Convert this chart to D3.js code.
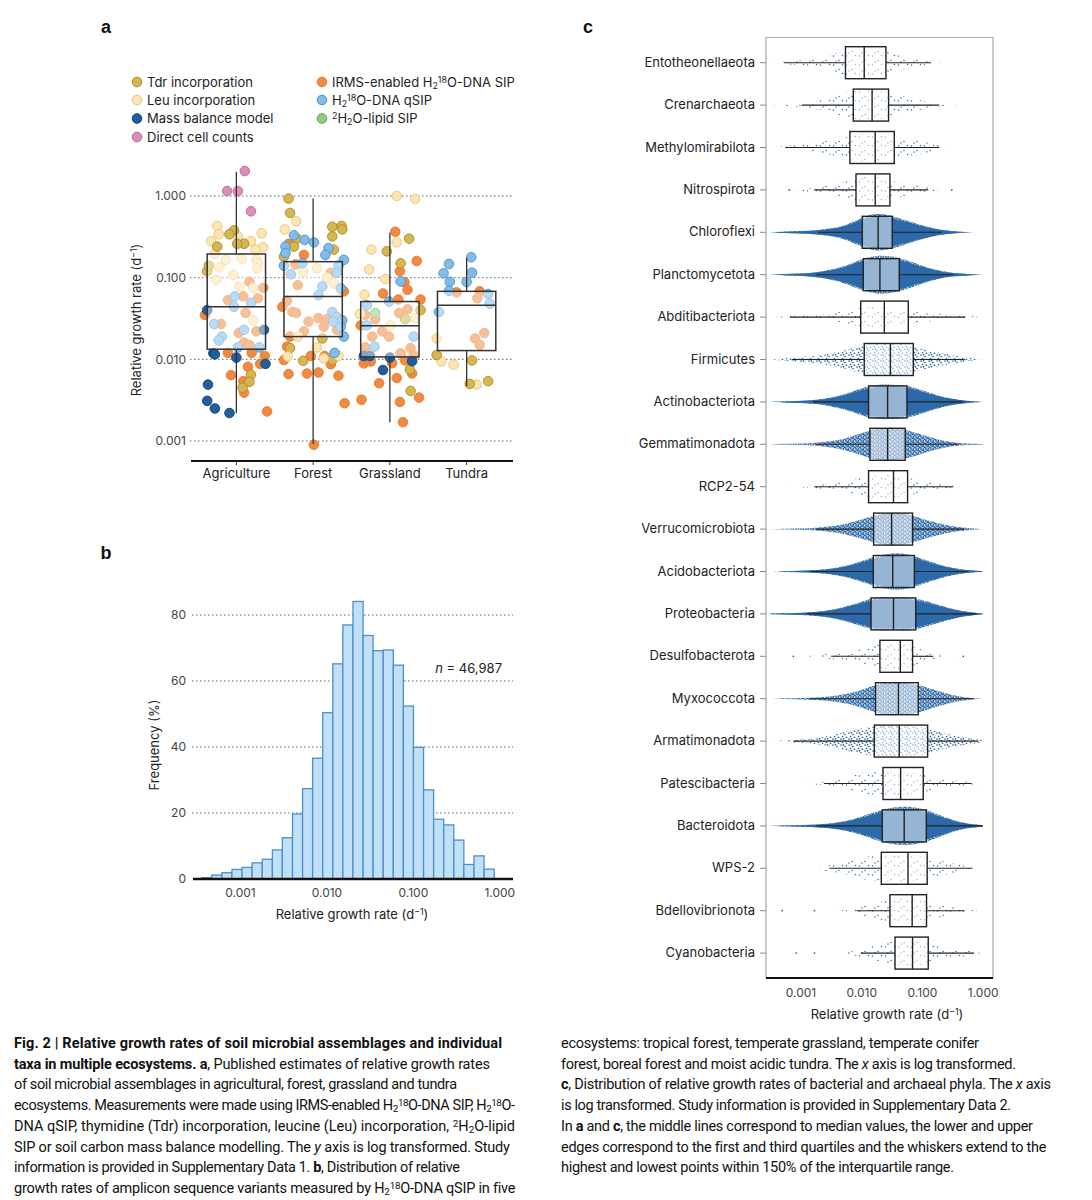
<!DOCTYPE html>
<html>
<head>
<meta charset="utf-8">
<script src="https://cdn.jsdelivr.net/npm/d3@7"></script>
<style>
  body { margin: 0; background: #fff; }
  svg text { font-family: Inter, "Noto Sans", sans-serif; fill: #222; }
</style>
</head>
<body>
<svg id="fig" width="1092" height="1200"></svg>
<script>
// ---------- panel a data ----------
const ecosystems = ["Agriculture", "Forest", "Grassland", "Tundra"];
const ecoLo  = [0.0022, 0.00092, 0.0017, 0.0047];
const ecoQ1  = [0.0133, 0.019, 0.0107, 0.0128];
const ecoMed = [0.044, 0.0586, 0.0257, 0.046];
const ecoQ3  = [0.195, 0.157, 0.051, 0.068];
const ecoHi  = [1.98, 0.93, 0.355, 0.176];

const methodKeys = ["tdr", "leu", "mass", "cell", "irms", "qsip", "lipid"];
const methodLabels = [
  "Tdr incorporation", "Leu incorporation", "Mass balance model", "Direct cell counts",
  "IRMS-enabled H_{2}^{18}O-DNA SIP", "H_{2}^{18}O-DNA qSIP", "^{2}H_{2}O-lipid SIP"
];

// [method, rate, jitter (fraction of category step)]
const pointsAgriculture = [
  ["irms",0.089,0.17],["irms",0.075,0.35],["irms",0.053,-0.11],["irms",0.059,0.09],["irms",0.056,0.28],
  ["irms",0.035,-0.41],["irms",0.037,0.12],["irms",0.027,-0.2],["irms",0.022,0.26],["irms",0.021,0.03],
  ["irms",0.016,0.1],["irms",0.015,0.17],["irms",0.012,-0.11],["irms",0.012,0.2],["irms",0.011,0.37],
  ["irms",0.0088,0.31],["irms",0.0081,0.15],["irms",0.0064,-0.07],["irms",0.0054,0.09],["irms",0.0039,0.1],
  ["irms",0.0023,0.4],
  ["cell",2.02,0.11],["cell",1.15,-0.12],["cell",1.15,0.02],["cell",0.65,0.19],
  ["leu",0.43,-0.25],["leu",0.34,-0.23],["leu",0.28,-0.33],["leu",0.32,0.02],["leu",0.28,0.19],
  ["leu",0.35,0.33],["leu",0.235,0.35],["leu",0.22,0.25],["leu",0.195,-0.28],["leu",0.17,0.07],
  ["leu",0.165,0.26],["leu",0.165,-0.14],["leu",0.134,-0.22],["leu",0.108,-0.04],["leu",0.094,-0.26],
  ["leu",0.15,0.28],["leu",0.078,0.04],["leu",0.075,0.22],["leu",0.030,0.22],["leu",0.13,0.27],
  ["tdr",0.38,-0.03],["tdr",0.34,-0.09],["tdr",0.26,0.10],["tdr",0.26,0.01],["tdr",0.24,-0.25],
  ["tdr",0.12,-0.38],["tdr",0.14,-0.36],["tdr",0.0065,0.19],["tdr",0.0053,0.17],["tdr",0.0045,0.08],
  ["qsip",0.059,-0.02],["qsip",0.049,0.19],["qsip",0.044,-0.03],["qsip",0.027,-0.29],["qsip",0.023,0.1],
  ["qsip",0.019,-0.19],["qsip",0.017,-0.23],["qsip",0.014,0.02],["qsip",0.014,0.3],
  ["mass",0.040,-0.38],["mass",0.023,0.36],["mass",0.0119,-0.3],["mass",0.0115,-0.28],["mass",0.0105,0],
  ["mass",0.0088,0.38],["mass",0.0049,-0.37],["mass",0.0031,-0.38],["mass",0.0025,-0.28],["mass",0.0022,-0.09]
];
const pointsForest = [
  ["irms",0.26,-0.32],["irms",0.19,-0.12],["irms",0.145,-0.23],["irms",0.115,0.23],["irms",0.081,-0.2],
  ["irms",0.068,0.4],["irms",0.044,-0.4],["irms",0.052,-0.34],["irms",0.038,-0.27],["irms",0.037,-0.22],
  ["irms",0.029,-0.06],["irms",0.032,0.07],["irms",0.031,0.18],["irms",0.025,0.14],["irms",0.023,0.31],
  ["irms",0.022,-0.12],["irms",0.019,-0.3],["irms",0.0143,-0.34],["irms",0.0098,-0.38],["irms",0.011,-0.03],
  ["irms",0.011,0.15],["irms",0.0087,0.23],["irms",0.0066,-0.32],["irms",0.0067,-0.08],["irms",0.0069,0.07],
  ["irms",0.0063,0.33],["irms",0.0029,0.41],["irms",0.0009,0.01],
  ["tdr",0.93,-0.32],["tdr",0.62,-0.3],["tdr",0.42,0.25],["tdr",0.43,0.37],["tdr",0.39,0.38],
  ["tdr",0.32,0.25],["tdr",0.3,-0.21],["tdr",0.24,-0.25],["tdr",0.22,0.27],["tdr",0.18,-0.38],
  ["tdr",0.018,0.12],["tdr",0.0137,-0.3],["tdr",0.0096,-0.13],["tdr",0.0098,0.25],
  ["leu",0.49,-0.22],["leu",0.39,-0.37],["leu",0.13,0.05],["leu",0.118,-0.13],["leu",0.1,0.18],
  ["leu",0.085,0.27],["leu",0.019,-0.2],["leu",0.014,0.05],["leu",0.0108,-0.33],["leu",0.0103,0.14],
  ["leu",0.011,0.33],
  ["qsip",0.33,-0.25],["qsip",0.29,-0.11],["qsip",0.27,0.01],["qsip",0.24,-0.36],["qsip",0.23,0.2],
  ["qsip",0.19,0.16],["qsip",0.2,-0.36],["qsip",0.165,0.4],["qsip",0.15,-0.14],["qsip",0.14,0.33],
  ["qsip",0.14,-0.38],["qsip",0.11,-0.29],["qsip",0.115,0.31],["qsip",0.078,0.12],["qsip",0.074,0.36],
  ["qsip",0.061,0.07],["qsip",0.038,0.25],["qsip",0.033,0.31],["qsip",0.029,0.26],["qsip",0.03,0.38],
  ["qsip",0.025,0.36],["qsip",0.019,0.4],["qsip",0.012,0.28]
];
const pointsGrassland = [
  ["irms",0.365,0.07],["irms",0.16,0.35],["irms",0.12,0.13],["irms",0.088,0.19],["irms",0.071,0.23],
  ["irms",0.064,-0.09],["irms",0.054,0.4],["irms",0.054,0.11],["irms",0.035,-0.32],["irms",0.037,0.12],
  ["irms",0.041,0.23],["irms",0.026,-0.38],["irms",0.031,-0.19],["irms",0.022,-0.1],["irms",0.019,-0.01],
  ["irms",0.019,-0.23],["irms",0.0137,0.27],["irms",0.014,-0.32],["irms",0.0119,0.14],["irms",0.0112,0.31],
  ["irms",0.0089,-0.34],["irms",0.0094,-0.25],["irms",0.009,0.03],["irms",0.0097,0.2],["irms",0.0067,0.29],
  ["irms",0.0059,0.09],["irms",0.0051,-0.14],["irms",0.0032,-0.37],["irms",0.0034,0.38],["irms",0.003,0.13],
  ["irms",0.0017,0.17],
  ["leu",1.0,0.09],["leu",0.92,0.33],["leu",0.27,0.09],["leu",0.22,-0.24],["leu",0.126,-0.27],
  ["leu",0.096,-0.06],["leu",0.062,-0.33],["leu",0.036,-0.39],["leu",0.026,0.01],["leu",0.032,0.33],
  ["tdr",0.3,0.25],["tdr",0.21,-0.04],["tdr",0.15,0.14],["tdr",0.04,0.4],["tdr",0.031,0.2],
  ["tdr",0.0075,0.26],["tdr",0.0041,0.27],
  ["lipid",0.037,-0.19],
  ["qsip",0.09,0.14],["qsip",0.051,-0.01],["qsip",0.046,-0.3],["qsip",0.026,-0.3],["qsip",0.019,0.31],
  ["qsip",0.0143,-0.2],
  ["mass",0.011,-0.34],["mass",0.011,-0.26],["mass",0.0105,0],["mass",0.0095,0.29],["mass",0.0074,-0.09]
];
const pointsTundra = [
  ["irms",0.066,-0.13],["irms",0.068,0.17],["irms",0.056,0.14],["irms",0.021,0.23],["irms",0.018,0.11],
  ["irms",0.015,0.17],
  ["leu",0.018,-0.39],["leu",0.0094,-0.33],["leu",0.0086,-0.17],["leu",0.0049,0.13],
  ["tdr",0.0113,-0.39],["tdr",0.0097,0.07],["tdr",0.005,0.04],["tdr",0.0054,0.28],
  ["qsip",0.178,0.06],["qsip",0.147,-0.23],["qsip",0.113,-0.3],["qsip",0.115,0.07],["qsip",0.089,-0.22],
  ["qsip",0.089,0],["qsip",0.069,-0.23],["qsip",0.063,0.28],["qsip",0.048,0.3],["qsip",0.038,-0.36]
];

// ---------- panel b data ----------
const binEdges = [0.000361, 0.000472, 0.000617, 0.000807, 0.001056, 0.00138, 0.00181, 0.00237,
  0.00309, 0.00405, 0.0053, 0.00692, 0.00906, 0.01186, 0.01549, 0.02028, 0.02655, 0.03467,
  0.04539, 0.05943, 0.07762, 0.1016, 0.133, 0.1738, 0.2275, 0.2979, 0.389, 0.5093, 0.6668, 0.873];
const binFreq = [0.4, 1.2, 1.9, 2.9, 3.5, 4.9, 6.0, 8.8, 12.5, 19.7, 27.4, 36.6, 50.4, 65.2, 77.0,
  84.1, 73.8, 69.2, 69.4, 64.8, 52.4, 39.9, 27.0, 18.1, 16.4, 11.8, 4.4, 7.0, 3.0];
const sampleSize = "46,987";

// ---------- panel c data ----------
const phyla = ["Entotheonellaeota", "Crenarchaeota", "Methylomirabilota", "Nitrospirota", "Chloroflexi",
  "Planctomycetota", "Abditibacteriota", "Firmicutes", "Actinobacteriota", "Gemmatimonadota", "RCP2-54",
  "Verrucomicrobiota", "Acidobacteriota", "Proteobacteria", "Desulfobacterota", "Myxococcota",
  "Armatimonadota", "Patescibacteria", "Bacteroidota", "WPS-2", "Bdellovibrionota", "Cyanobacteria"];
const phyLo  = [0.00054, 0.00105, 0.00056, 0.00168, 0.00195, 0.0018, 0.00067, 0.00072, 0.0016, 0.0018, 0.00168,
  0.0018, 0.0014, 0.00126, 0.0032, 0.0014, 0.00076, 0.00245, 0.0018, 0.003, 0.0084, 0.0098];
const phyQ1  = [0.0055, 0.0074, 0.0065, 0.0082, 0.0104, 0.0108, 0.0098, 0.0112, 0.0132, 0.0139, 0.0132,
  0.016, 0.0158, 0.0145, 0.0203, 0.0172, 0.0164, 0.0228, 0.0222, 0.0214, 0.0297, 0.036];
const phyMed = [0.0112, 0.0151, 0.017, 0.017, 0.019, 0.0203, 0.024, 0.0302, 0.0272, 0.0272, 0.034,
  0.0316, 0.033, 0.034, 0.044, 0.041, 0.0423, 0.0445, 0.051, 0.059, 0.069, 0.07];
const phyQ3  = [0.0255, 0.0282, 0.035, 0.0297, 0.0324, 0.0423, 0.0596, 0.072, 0.0566, 0.053, 0.058,
  0.07, 0.075, 0.079, 0.07, 0.087, 0.124, 0.105, 0.118, 0.122, 0.119, 0.127];
const phyHi  = [0.141, 0.193, 0.193, 0.127, 0.211, 0.33, 0.52, 0.51, 0.48, 0.4, 0.328,
  0.5, 0.56, 0.79, 0.154, 0.71, 0.85, 0.66, 1.0, 0.68, 0.5, 0.72];
const phyCloud = ["sparse", "sparse", "sparse", "sparse", "solid", "solid", "sparse", "medium", "solid",
  "dense", "sparse", "dense", "solid", "solid", "sparse", "dense", "medium", "sparse", "solid", "sparse",
  "sparse", "sparse"];

const profileRates = [0.00032, 0.00056, 0.001, 0.0018, 0.0032, 0.0056, 0.01, 0.018, 0.032, 0.056,
  0.1, 0.18, 0.32, 0.56, 1.0];
const phyProfiles = [
  [0, 0.1, 0.15, 0.2, 0.4, 0.85, 0.9, 0.9, 0.5, 0.35, 0.2, 0, 0, 0, 0],
  [0, 0.05, 0.15, 0.2, 0.45, 0.75, 0.9, 0.9, 0.7, 0.45, 0.25, 0.1, 0, 0, 0],
  [0, 0.1, 0.15, 0.25, 0.45, 0.6, 0.85, 0.85, 0.6, 0.5, 0.4, 0.15, 0, 0, 0],
  [0, 0, 0.05, 0.15, 0.3, 0.5, 0.8, 0.8, 0.5, 0.35, 0.25, 0, 0, 0, 0],
  [0, 0.04, 0.06, 0.1, 0.2, 0.35, 0.75, 1.0, 0.85, 0.6, 0.35, 0.15, 0.06, 0, 0],
  [0, 0.04, 0.06, 0.12, 0.25, 0.45, 0.8, 1.0, 0.95, 0.75, 0.45, 0.22, 0.08, 0.04, 0],
  [0, 0.05, 0.1, 0.1, 0.2, 0.35, 0.6, 0.6, 0.5, 0.35, 0.3, 0.2, 0.15, 0.05, 0],
  [0, 0.08, 0.15, 0.2, 0.35, 0.55, 0.8, 0.95, 0.95, 0.9, 0.6, 0.4, 0.25, 0.1, 0],
  [0, 0.03, 0.05, 0.1, 0.22, 0.4, 0.7, 0.9, 0.88, 0.85, 0.6, 0.33, 0.15, 0.05, 0],
  [0, 0.03, 0.04, 0.08, 0.18, 0.33, 0.65, 0.95, 1.0, 0.85, 0.55, 0.28, 0.1, 0.04, 0.02],
  [0, 0, 0.03, 0.1, 0.2, 0.35, 0.55, 0.7, 0.7, 0.55, 0.35, 0.2, 0.05, 0, 0],
  [0, 0.03, 0.04, 0.08, 0.15, 0.3, 0.55, 0.85, 1.0, 0.92, 0.6, 0.35, 0.15, 0.06, 0],
  [0, 0.02, 0.04, 0.07, 0.14, 0.28, 0.52, 0.8, 0.95, 0.92, 0.65, 0.38, 0.17, 0.06, 0.02],
  [0.02, 0.03, 0.05, 0.1, 0.2, 0.38, 0.62, 0.88, 0.82, 0.88, 0.72, 0.48, 0.25, 0.1, 0.02],
  [0, 0, 0, 0.05, 0.15, 0.3, 0.4, 0.7, 0.8, 0.7, 0.4, 0.05, 0, 0, 0],
  [0, 0.02, 0.04, 0.07, 0.14, 0.26, 0.5, 0.85, 1.0, 0.95, 0.78, 0.45, 0.2, 0.06, 0],
  [0, 0.05, 0.1, 0.15, 0.35, 0.55, 0.75, 0.9, 0.9, 0.85, 0.85, 0.55, 0.35, 0.2, 0.05],
  [0, 0, 0, 0.05, 0.15, 0.35, 0.6, 0.7, 0.7, 0.7, 0.55, 0.35, 0.2, 0.1, 0],
  [0, 0.02, 0.04, 0.07, 0.12, 0.25, 0.45, 0.75, 0.95, 1.0, 0.9, 0.6, 0.3, 0.1, 0.04],
  [0, 0, 0, 0.05, 0.2, 0.35, 0.65, 0.75, 0.75, 0.8, 0.7, 0.45, 0.3, 0.1, 0],
  [0, 0, 0, 0, 0, 0, 0.3, 0.45, 0.7, 0.75, 0.65, 0.4, 0.25, 0.05, 0],
  [0, 0, 0, 0, 0, 0, 0.25, 0.45, 0.7, 0.75, 0.7, 0.45, 0.3, 0.15, 0]
];
const phyOutliers = [
  ["Nitrospirota", 0.00065], ["Nitrospirota", 0.31],
  ["Desulfobacterota", 0.00076], ["Desulfobacterota", 0.48],
  ["Bdellovibrionota", 0.0005], ["Bdellovibrionota", 0.0017],
  ["Cyanobacteria", 0.00085], ["Cyanobacteria", 0.0017]
];

// ---------- caption ----------
const captionLeft = [
  "**Fig. 2 | Relative growth rates of soil microbial assemblages and individual**",
  "**taxa in multiple ecosystems. a**, Published estimates of relative growth rates",
  "of soil microbial assemblages in agricultural, forest, grassland and tundra",
  "ecosystems. Measurements were made using IRMS-enabled H_{2}^{18}O-DNA SIP, H_{2}^{18}O-",
  "DNA qSIP, thymidine (Tdr) incorporation, leucine (Leu) incorporation, ^{2}H_{2}O-lipid",
  "SIP or soil carbon mass balance modelling. The *y* axis is log transformed. Study",
  "information is provided in Supplementary Data 1. **b**, Distribution of relative",
  "growth rates of amplicon sequence variants measured by H_{2}^{18}O-DNA qSIP in five"
];
const captionRight = [
  "ecosystems: tropical forest, temperate grassland, temperate conifer",
  "forest, boreal forest and moist acidic tundra. The *x* axis is log transformed.",
  "**c**, Distribution of relative growth rates of bacterial and archaeal phyla. The *x* axis",
  "is log transformed. Study information is provided in Supplementary Data 2.",
  "In **a** and **c**, the middle lines correspond to median values, the lower and upper",
  "edges correspond to the first and third quartiles and the whiskers extend to the",
  "highest and lowest points within 150% of the interquartile range."
];
const captionLeftWidths = [488, 476, 443, 501, 501, 496, 446, 501];
const captionRightWidths = [418, 455, 490, 450, 472, 485, 393];

// ---------- helpers ----------
const colors = {
  tdr:   { fill: "#d8b64e", stroke: "#a88b2c" },
  leu:   { fill: "#fce5ae", stroke: "#e3c57f" },
  mass:  { fill: "#205e9f", stroke: "#163f6e" },
  cell:  { fill: "#d98fb6", stroke: "#b56b93" },
  irms:  { fill: "#f08a40", stroke: "#e47b31" },
  qsip:  { fill: "#80bce8", stroke: "#4c91cd" },
  lipid: { fill: "#94cb80", stroke: "#62a150" }
};
const fmt3 = d3.format(".3f");

// simple markup: **bold**, *italic*, _{sub}, ^{sup}
function rich(textSel, str) {
  const parts = str.split(/(\*\*[^*]+\*\*|\*[^*]+\*|_\{[^}]+\}|\^\{[^}]+\})/).filter(s => s.length);
  parts.forEach(p => {
    const t = textSel.append("tspan");
    if (p.startsWith("**")) t.attr("font-weight", "bold").text(p.slice(2, -2));
    else if (p.startsWith("*")) t.attr("font-style", "italic").text(p.slice(1, -1));
    else if (p.startsWith("_{")) t.attr("baseline-shift", "-20%").attr("font-size", "68%").text(p.slice(2, -1));
    else if (p.startsWith("^{")) t.attr("baseline-shift", "45%").attr("font-size", "68%").text(p.slice(2, -1));
    else t.text(p);
  });
  return textSel;
}

const svg = d3.select("#fig");
svg.append("rect").attr("width", 1092).attr("height", 1200).attr("fill", "#fff");

// panel letters
svg.selectAll("text.panel")
  .data([["a", 106, 33], ["b", 106, 559], ["c", 588, 33]])
  .join("text")
  .attr("class", "panel")
  .attr("x", d => d[1]).attr("y", d => d[2])
  .attr("text-anchor", "middle")
  .style("font-family", "'Liberation Sans', Arial, sans-serif")
  .style("font-weight", "bold").style("font-size", "18px").style("fill", "#111")
  .text(d => d[0]);

// ================= panel a =================
const ya = d3.scaleLog().domain([0.001, 1]).range([441, 196]);
const xa = d3.scaleBand().domain(ecosystems).range([198, 505]);
const aTicks = [1, 0.1, 0.01, 0.001];

// legend
const legendPos = [[137, 82], [137, 100], [137, 118.5], [137, 137], [322, 82], [322, 100], [322, 118.5]];
const leg = svg.append("g");
methodKeys.forEach((k, i) => {
  leg.append("circle").attr("cx", legendPos[i][0]).attr("cy", legendPos[i][1]).attr("r", 4.8)
    .attr("fill", colors[k].fill).attr("stroke", colors[k].stroke).attr("stroke-width", 1);
  rich(leg.append("text").attr("x", legendPos[i][0] + 10).attr("y", legendPos[i][1] + 4.5)
    .style("font-size", "13px"), methodLabels[i]);
});

// grid lines
svg.append("g").selectAll("line").data(aTicks).join("line")
  .attr("x1", 190).attr("x2", 513)
  .attr("y1", d => ya(d)).attr("y2", d => ya(d))
  .attr("stroke", "#666").attr("stroke-width", 1).attr("stroke-dasharray", "1.5,2.5");

const yAxisA = svg.append("g").attr("transform", "translate(188,0)")
  .call(d3.axisLeft(ya).tickValues(aTicks).tickFormat(fmt3).tickSize(0).tickPadding(2));
yAxisA.select(".domain").remove();
yAxisA.selectAll("text").style("font-size", "12px").style("fill", "#444").style("font-family", "Inter, sans-serif");

svg.append("text")
  .attr("transform", "translate(141,320) rotate(-90)")
  .attr("text-anchor", "middle").style("font-size", "13px")
  .call(t => rich(t, "Relative growth rate (d^{−1})"));

// points
const allA = [
  ...pointsAgriculture.map(p => ["Agriculture", ...p]),
  ...pointsForest.map(p => ["Forest", ...p]),
  ...pointsGrassland.map(p => ["Grassland", ...p]),
  ...pointsTundra.map(p => ["Tundra", ...p])
];
svg.append("g").selectAll("circle").data(allA).join("circle")
  .attr("cx", d => xa(d[0]) + xa.bandwidth() / 2 + d[3] * xa.step())
  .attr("cy", d => ya(d[2]))
  .attr("r", 4.8)
  .attr("fill", d => colors[d[1]].fill)
  .attr("stroke", d => colors[d[1]].stroke)
  .attr("stroke-width", 0.9);

// boxes
const boxA = svg.append("g");
ecosystems.forEach((e, i) => {
  const cx = xa(e) + xa.bandwidth() / 2;
  const w = xa.step() * 0.76;
  boxA.append("line").attr("x1", cx).attr("x2", cx).attr("y1", ya(ecoHi[i])).attr("y2", ya(ecoQ3[i]))
    .attr("stroke", "#333").attr("stroke-width", 1.3);
  boxA.append("line").attr("x1", cx).attr("x2", cx).attr("y1", ya(ecoQ1[i])).attr("y2", ya(ecoLo[i]))
    .attr("stroke", "#333").attr("stroke-width", 1.3);
  boxA.append("rect").attr("x", cx - w / 2).attr("width", w)
    .attr("y", ya(ecoQ3[i])).attr("height", ya(ecoQ1[i]) - ya(ecoQ3[i]))
    .attr("fill", "#fff").attr("fill-opacity", 0.45).attr("stroke", "#333").attr("stroke-width", 1.5);
  boxA.append("line").attr("x1", cx - w / 2).attr("x2", cx + w / 2)
    .attr("y1", ya(ecoMed[i])).attr("y2", ya(ecoMed[i])).attr("stroke", "#333").attr("stroke-width", 1.5);
});

const xAxisA = svg.append("g").attr("transform", "translate(0,461)")
  .call(d3.axisBottom(xa).tickSize(4).tickPadding(4));
xAxisA.select(".domain").remove();
xAxisA.selectAll("line").attr("stroke", "#333");
xAxisA.selectAll("text").style("font-size", "13px").style("fill", "#222").style("font-family", "Inter, sans-serif");
svg.append("line").attr("x1", 191).attr("x2", 513).attr("y1", 461).attr("y2", 461)
  .attr("stroke", "#111").attr("stroke-width", 2.2);

// ================= panel b =================
const xb = d3.scaleLog().domain([0.001, 1]).range([240, 499.3]);
const yb = d3.scaleLinear().domain([0, 80]).range([879, 615]);

svg.append("g").selectAll("line").data([20, 40, 60, 80]).join("line")
  .attr("x1", 192).attr("x2", 513)
  .attr("y1", d => yb(d)).attr("y2", d => yb(d))
  .attr("stroke", "#666").attr("stroke-width", 1).attr("stroke-dasharray", "1.5,2.5");

svg.append("g").selectAll("rect").data(binFreq).join("rect")
  .attr("x", (d, i) => xb(binEdges[i]))
  .attr("width", (d, i) => xb(binEdges[i + 1]) - xb(binEdges[i]))
  .attr("y", d => yb(d))
  .attr("height", d => yb(0) - yb(d))
  .attr("fill", "#bfe0f6").attr("stroke", "#4f8fc8").attr("stroke-width", 1.3);

const yAxisB = svg.append("g").attr("transform", "translate(190,0)")
  .call(d3.axisLeft(yb).tickValues([0, 20, 40, 60, 80]).tickSize(0).tickPadding(4));
yAxisB.select(".domain").remove();
yAxisB.selectAll("text").style("font-size", "12px").style("fill", "#444").style("font-family", "Inter, sans-serif");

const xAxisB = svg.append("g").attr("transform", "translate(0,880)")
  .call(d3.axisBottom(xb).tickValues([0.001, 0.01, 0.1, 1]).tickFormat(fmt3).tickSize(0).tickPadding(8));
xAxisB.select(".domain").remove();
xAxisB.selectAll("text").style("font-size", "12px").style("fill", "#444").style("font-family", "Inter, sans-serif");
svg.append("line").attr("x1", 193).attr("x2", 513).attr("y1", 879).attr("y2", 879)
  .attr("stroke", "#111").attr("stroke-width", 2.5);

svg.append("text").attr("x", 502).attr("y", 673).attr("text-anchor", "end").style("font-size", "13px")
  .call(t => { t.append("tspan").attr("font-style", "italic").text("n"); t.append("tspan").text(" = " + sampleSize); });

svg.append("text")
  .attr("transform", "translate(159,745) rotate(-90)")
  .attr("text-anchor", "middle").style("font-size", "13px").text("Frequency (%)");
svg.append("text").attr("x", 352).attr("y", 919).attr("text-anchor", "middle").style("font-size", "13px")
  .call(t => rich(t, "Relative growth rate (d^{−1})"));

// ================= panel c =================
const xc = d3.scaleLog().domain([0.00027, 1.48]).range([766, 993]);
const yc = d3.scaleBand().domain(phyla).range([41.5, 974.3]);
const blue = "#2c69a8";

// dot textures for the point clouds
const defs = svg.append("defs");
const patterns = {
  sparse: { w: 13, h: 9, dots: [[1.5, 2], [7, 6.5], [10.5, 1.5], [4, 8]], r: 0.75 },
  medium: { w: 8, h: 6, dots: [[1, 1], [5, 2.5], [2.5, 4.5], [6.5, 5.3], [3.5, 0.8]], r: 0.85 },
  dense:  { w: 5, h: 4, dots: [[1, 1], [3.5, 0.5], [2.2, 2.6], [4.4, 3.2], [0.5, 3.4], [3.2, 1.9]], r: 1.0 }
};
Object.entries(patterns).forEach(([k, p]) => {
  const pat = defs.append("pattern").attr("id", "dots-" + k).attr("patternUnits", "userSpaceOnUse")
    .attr("width", p.w).attr("height", p.h);
  p.dots.forEach(d => pat.append("circle").attr("cx", d[0]).attr("cy", d[1]).attr("r", p.r).attr("fill", blue));
});

// frame
svg.append("path").attr("d", "M766,978V37.5H993V978").attr("fill", "none").attr("stroke", "#aaa").attr("stroke-width", 1.2);

const halfH = 17;
const rowG = svg.append("g");
phyla.forEach((ph, i) => {
  const cy = yc(ph) + yc.bandwidth() / 2;
  const prof = phyProfiles[i].map((v, j) => [profileRates[j], v]);
  const area = d3.area()
    .x(d => xc(d[0]))
    .y0(d => cy - d[1] * halfH)
    .y1(d => cy + d[1] * halfH)
    .curve(d3.curveBasis);
  const cls = phyCloud[i];
  if (cls === "solid") {
    const halo = d3.area().x(d => xc(d[0])).y0(d => cy - d[1] * halfH * 1.15).y1(d => cy + d[1] * halfH * 1.15).curve(d3.curveBasis);
    rowG.append("path").attr("d", halo(prof)).attr("fill", "url(#dots-dense)");
    rowG.append("path").attr("d", area(prof)).attr("fill", blue);
  } else {
    rowG.append("path").attr("d", area(prof)).attr("fill", "url(#dots-" + cls + ")");
  }
  // whiskers
  rowG.append("line").attr("x1", xc(phyLo[i])).attr("x2", xc(phyQ1[i])).attr("y1", cy).attr("y2", cy)
    .attr("stroke", "#222").attr("stroke-width", 1.1);
  rowG.append("line").attr("x1", xc(phyQ3[i])).attr("x2", xc(phyHi[i])).attr("y1", cy).attr("y2", cy)
    .attr("stroke", "#222").attr("stroke-width", 1.1);
  // box
  rowG.append("rect").attr("x", xc(phyQ1[i])).attr("width", xc(phyQ3[i]) - xc(phyQ1[i]))
    .attr("y", cy - 16).attr("height", 32)
    .attr("fill", "#fff").attr("fill-opacity", 0.5).attr("stroke", "#222").attr("stroke-width", 1.4);
  rowG.append("line").attr("x1", xc(phyMed[i])).attr("x2", xc(phyMed[i])).attr("y1", cy - 16).attr("y2", cy + 16)
    .attr("stroke", "#222").attr("stroke-width", 1.4);
});

rowG.append("g").selectAll("circle").data(phyOutliers).join("circle")
  .attr("cx", d => xc(d[1])).attr("cy", d => yc(d[0]) + yc.bandwidth() / 2)
  .attr("r", 0.9).attr("fill", blue);

const yAxisC = svg.append("g").attr("transform", "translate(766,0)")
  .call(d3.axisLeft(yc).tickSize(6).tickPadding(5));
yAxisC.select(".domain").remove();
yAxisC.selectAll("line").attr("stroke", "#888");
yAxisC.selectAll("text").style("font-size", "13px").style("fill", "#222").style("font-family", "Inter, sans-serif");

const xAxisC = svg.append("g").attr("transform", "translate(0,979)")
  .call(d3.axisBottom(xc).tickValues([0.001, 0.01, 0.1, 1]).tickFormat(fmt3).tickSize(0).tickPadding(9));
xAxisC.select(".domain").remove();
xAxisC.selectAll("text").style("font-size", "12px").style("fill", "#444").style("font-family", "Inter, sans-serif");
svg.append("line").attr("x1", 766).attr("x2", 993).attr("y1", 978).attr("y2", 978)
  .attr("stroke", "#111").attr("stroke-width", 2.2);

svg.append("text").attr("x", 887).attr("y", 1019).attr("text-anchor", "middle").style("font-size", "13px")
  .call(t => rich(t, "Relative growth rate (d^{−1})"));

// ================= caption =================
// fit each line to the measured width with letter spacing, so tspans keep their own boxes
function captionBlock(lines, widths, x0) {
  lines.forEach((ln, i) => {
    const t = svg.append("text").attr("x", x0).attr("y", 1048 + i * 20.7)
      .style("font-family", "Roboto, 'Noto Sans', sans-serif")
      .style("font-size", "14.5px").style("fill", "#111");
    rich(t, ln);
    const natural = t.node().getComputedTextLength();
    const chars = t.text().length;
    const ls = (widths[i] - natural) / Math.max(1, chars - 1);
    t.style("letter-spacing", ls.toFixed(3) + "px");
  });
}
captionBlock(captionLeft, captionLeftWidths, 14);
captionBlock(captionRight, captionRightWidths, 561);
</script>
</body>
</html>
